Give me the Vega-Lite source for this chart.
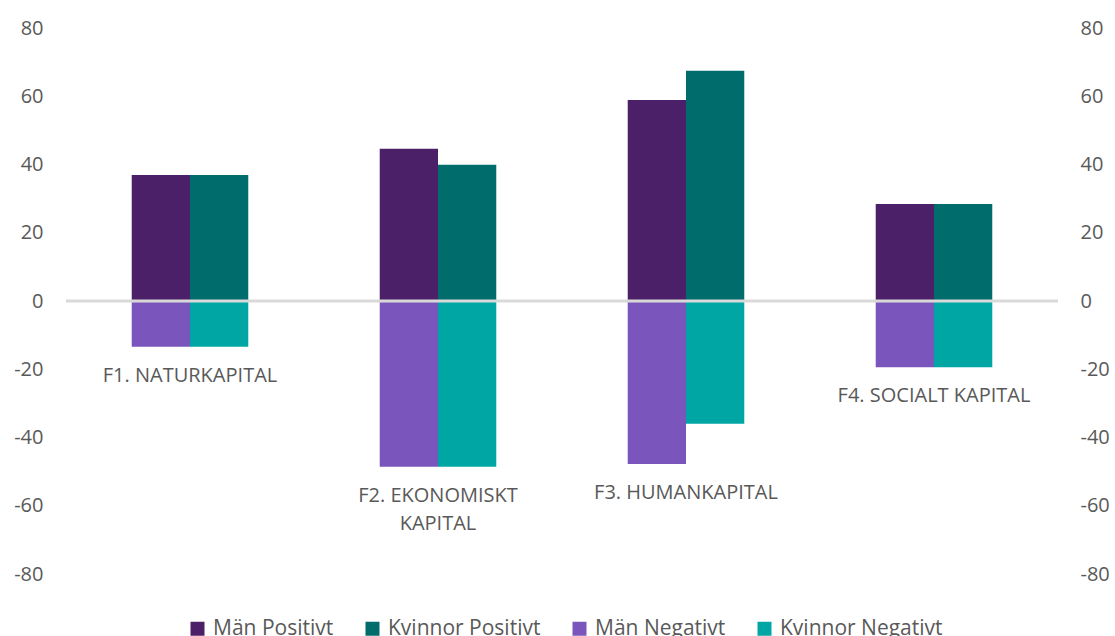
{
  "$schema": "https://vega.github.io/schema/vega-lite/v6.json",
  "width": 992,
  "height": 546,
  "autosize": {"type": "none"},
  "padding": {"left": 66, "top": 28, "right": 57, "bottom": 62},
  "background": "white",
  "config": {
    "view": {"stroke": null},
    "font": "Open Sans",
    "axis": {
      "domain": false,
      "ticks": false,
      "grid": false,
      "labelFont": "Open Sans",
      "labelFontSize": 20,
      "labelColor": "#595959",
      "title": null
    },
    "legend": {
      "labelFont": "Open Sans",
      "labelFontSize": 21,
      "labelColor": "#595959",
      "labelLimit": 400
    }
  },
  "data": {
    "values": [
      {"category": "F1. NATURKAPITAL", "gender": "Män", "series": "Män Positivt", "value": 36.9},
      {"category": "F1. NATURKAPITAL", "gender": "Kvinnor", "series": "Kvinnor Positivt", "value": 36.9},
      {"category": "F1. NATURKAPITAL", "gender": "Män", "series": "Män Negativt", "value": -13.4},
      {"category": "F1. NATURKAPITAL", "gender": "Kvinnor", "series": "Kvinnor Negativt", "value": -13.4},
      {"category": "F2. EKONOMISKT\nKAPITAL", "gender": "Män", "series": "Män Positivt", "value": 44.6},
      {"category": "F2. EKONOMISKT\nKAPITAL", "gender": "Kvinnor", "series": "Kvinnor Positivt", "value": 39.9},
      {"category": "F2. EKONOMISKT\nKAPITAL", "gender": "Män", "series": "Män Negativt", "value": -48.6},
      {"category": "F2. EKONOMISKT\nKAPITAL", "gender": "Kvinnor", "series": "Kvinnor Negativt", "value": -48.6},
      {"category": "F3. HUMANKAPITAL", "gender": "Män", "series": "Män Positivt", "value": 58.9},
      {"category": "F3. HUMANKAPITAL", "gender": "Kvinnor", "series": "Kvinnor Positivt", "value": 67.5},
      {"category": "F3. HUMANKAPITAL", "gender": "Män", "series": "Män Negativt", "value": -47.8},
      {"category": "F3. HUMANKAPITAL", "gender": "Kvinnor", "series": "Kvinnor Negativt", "value": -36.0},
      {"category": "F4. SOCIALT KAPITAL", "gender": "Män", "series": "Män Positivt", "value": 28.4},
      {"category": "F4. SOCIALT KAPITAL", "gender": "Kvinnor", "series": "Kvinnor Positivt", "value": 28.4},
      {"category": "F4. SOCIALT KAPITAL", "gender": "Män", "series": "Män Negativt", "value": -19.4},
      {"category": "F4. SOCIALT KAPITAL", "gender": "Kvinnor", "series": "Kvinnor Negativt", "value": -19.4}
    ]
  },
  "layer": [
    {
      "mark": {"type": "bar"},
      "encoding": {
        "x": {
          "field": "category",
          "type": "nominal",
          "sort": null,
          "axis": null,
          "scale": {"paddingInner": 0.53, "paddingOuter": 0.265}
        },
        "xOffset": {
          "field": "gender",
          "type": "nominal",
          "sort": ["Män", "Kvinnor"],
          "scale": {"paddingInner": 0, "paddingOuter": 0}
        },
        "y": {
          "field": "value",
          "type": "quantitative",
          "stack": null,
          "scale": {"domain": [-80, 80], "nice": false, "zero": true},
          "axis": {
            "orient": "left",
            "values": [-80, -60, -40, -20, 0, 20, 40, 60, 80],
            "labelExpr": "datum.value + ''",
            "labelPadding": 23
          }
        },
        "color": {
          "field": "series",
          "type": "nominal",
          "sort": ["Män Positivt", "Kvinnor Positivt", "Män Negativt", "Kvinnor Negativt"],
          "scale": {
            "domain": ["Män Positivt", "Kvinnor Positivt", "Män Negativt", "Kvinnor Negativt"],
            "range": ["#4B2068", "#006D6C", "#7A56BC", "#00A6A4"]
          },
          "legend": {
            "title": null,
            "orient": "none",
            "direction": "horizontal",
            "legendX": 121,
            "legendY": 590,
            "symbolType": "square",
            "symbolSize": 196,
            "symbolStrokeWidth": 0,
            "labelOffset": 5,
            "columnPadding": 28,
            "columns": 4
          }
        }
      }
    },
    {
      "data": {"values": [{"zero": 0}]},
      "mark": {"type": "rule", "color": "#D9D9D9", "strokeWidth": 3},
      "encoding": {
        "y": {
          "field": "zero",
          "type": "quantitative",
          "axis": {
            "orient": "right",
            "values": [-80, -60, -40, -20, 0, 20, 40, 60, 80],
            "labelExpr": "datum.value + ''",
            "labelPadding": 22
          }
        }
      }
    },
    {
      "mark": {
        "type": "text",
        "baseline": "top",
        "align": "center",
        "dy": 19,
        "lineHeight": 28,
        "lineBreak": "\n",
        "font": "Open Sans",
        "fontSize": 20,
        "color": "#595959"
      },
      "encoding": {
        "x": {"field": "category", "type": "nominal", "sort": null, "axis": null},
        "y": {"aggregate": "min", "field": "value", "type": "quantitative", "axis": null},
        "text": {"field": "category", "type": "nominal"}
      }
    }
  ],
  "resolve": {"axis": {"y": "independent"}}
}
